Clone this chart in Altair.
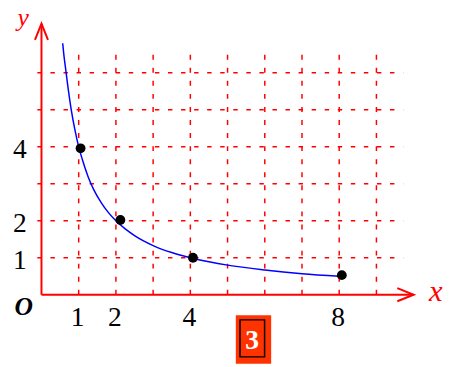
import altair as alt
import pandas as pd

# ---- data ----
grid_x = [1, 2, 3, 4, 5, 6, 7, 8, 9]
grid_y = [1, 2, 3, 4, 5, 6]
grid_x_top = 6.68      # top end of vertical grid lines
grid_y_left = -0.11    # horizontal grid lines start
grid_y_right = 9.72    # horizontal grid lines end

curve_x = [0.57, 0.6, 0.65, 0.7, 0.8, 0.9, 1.0, 1.1, 1.25, 1.4, 1.6, 1.8, 2.0,
           2.25, 2.5, 3.0, 3.5, 4.0, 4.5, 5.0, 6.0, 7.0, 8.0]
curve_y = [6.8, 6.5, 6.1, 5.7, 5.0, 4.45, 4.0, 3.65, 3.2, 2.85, 2.5, 2.22, 2.0,
           1.78, 1.6, 1.33, 1.14, 1.0, 0.89, 0.8, 0.67, 0.57, 0.5]

pts_x = [1.05, 2.12, 4.07, 8.07]
pts_y = [3.96, 2.02, 1.0, 0.53]

xtick_vals = [1, 2, 4, 8]
xtick_labels = ["1", "2", "4", "8"]
ytick_vals = [1, 2, 4]
ytick_labels = ["1", "2", "4"]

x_axis_end = 10.0
y_axis_end = 7.33

# ---- scales ----
W, H = 443, 359
xs = alt.Scale(domain=[-0.8997, 10.789], nice=False, zero=False)
ys = alt.Scale(domain=[-1.8667, 7.666], nice=False, zero=False)
SERIF = "Liberation Serif, Times New Roman, serif"
RED = "#ff0000"

vgrid_df = pd.DataFrame({"gx": grid_x, "y0": [0] * len(grid_x), "y1": [grid_x_top] * len(grid_x)})
hgrid_df = pd.DataFrame({"gy": grid_y, "x0": [grid_y_left] * len(grid_y), "x1": [grid_y_right] * len(grid_y)})
curve_df = pd.DataFrame({"x": curve_x, "y": curve_y})
pts_df = pd.DataFrame({"x": pts_x, "y": pts_y})
axes_df = pd.DataFrame({"x0": [0, 0], "y0": [0, 0], "x1": [x_axis_end, 0], "y1": [0, y_axis_end]})
arrows_df = pd.DataFrame({"x": [0, x_axis_end], "y": [y_axis_end, 0], "ang": [0, 90]})
xt_df = pd.DataFrame({"v": xtick_vals, "t": xtick_labels})
yt_df = pd.DataFrame({"v": ytick_vals, "t": ytick_labels})
one = pd.DataFrame({"k": [0]})

vgrid = alt.Chart(vgrid_df).mark_rule(color=RED, strokeWidth=1.5, strokeDash=[5, 8.3]).encode(
    x=alt.X("gx:Q", scale=xs, axis=None),
    y=alt.Y("y0:Q", scale=ys, axis=None),
    y2="y1:Q",
)
hgrid = alt.Chart(hgrid_df).mark_rule(color=RED, strokeWidth=1.5, strokeDash=[4.5, 8.8]).encode(
    y=alt.Y("gy:Q", scale=ys, axis=None),
    x=alt.X("x0:Q", scale=xs, axis=None),
    x2="x1:Q",
)
axes = alt.Chart(axes_df).mark_rule(color=RED, strokeWidth=2).encode(
    x=alt.X("x0:Q", scale=xs, axis=None),
    y=alt.Y("y0:Q", scale=ys, axis=None),
    x2="x1:Q",
    y2="y1:Q",
)
arrows = alt.Chart(arrows_df).mark_point(
    shape="M -0.4 1 L 0 0 L 0.4 1", filled=False, stroke=RED, strokeWidth=2,
    size=1102, opacity=1,
).encode(
    x=alt.X("x:Q", scale=xs, axis=None),
    y=alt.Y("y:Q", scale=ys, axis=None),
    angle=alt.Angle("ang:Q", scale=None),
)
curve = alt.Chart(curve_df).mark_line(color="#0000ff", strokeWidth=1.5, interpolate="monotone").encode(
    x=alt.X("x:Q", scale=xs, axis=None),
    y=alt.Y("y:Q", scale=ys, axis=None),
    order=alt.Order("x:Q"),
)
pts = alt.Chart(pts_df).mark_circle(size=100, color="black", opacity=1).encode(
    x=alt.X("x:Q", scale=xs, axis=None),
    y=alt.Y("y:Q", scale=ys, axis=None),
)
xt = alt.Chart(xt_df).mark_text(font=SERIF, fontSize=28, color="black", align="center",
                                baseline="alphabetic", dx=-1).encode(
    x=alt.X("v:Q", scale=xs, axis=None),
    y=alt.value(321),
    text="t:N",
)
yt = alt.Chart(yt_df).mark_text(font=SERIF, fontSize=28, color="black", align="right",
                                baseline="alphabetic", dy=11).encode(
    x=alt.value(19),
    y=alt.Y("v:Q", scale=ys, axis=None),
    text="t:N",
)
o_lbl = alt.Chart(one).mark_text(text="O", font=SERIF, fontSize=26, fontStyle="italic",
                                 fontWeight="bold", color="black", align="center",
                                 baseline="alphabetic").encode(x=alt.value(16), y=alt.value(309))
x_lbl = alt.Chart(one).mark_text(text="x", font=SERIF, fontSize=31, fontStyle="italic",
                                 color=RED, align="center", baseline="alphabetic").encode(
    x=alt.value(435.5), y=alt.value(295.5))
y_lbl = alt.Chart(one).mark_text(text="y", font=SERIF, fontSize=26, fontStyle="italic",
                                 color=RED, align="center", baseline="alphabetic").encode(
    x=alt.value(15.5), y=alt.value(15))

box = alt.Chart(one).mark_rect(color="#ff3300", opacity=1).encode(
    x=alt.value(232), x2=alt.value(268), y=alt.value(309.7), y2=alt.value(359))
inner = alt.Chart(one).mark_rect(filled=False, stroke="black", strokeWidth=1.5, opacity=1).encode(
    x=alt.value(236.3), x2=alt.value(261.3), y=alt.value(314.3), y2=alt.value(352))
three = alt.Chart(one).mark_text(text="3", font=SERIF, fontSize=28, fontWeight="bold",
                                 color="white", align="center", baseline="alphabetic").encode(
    x=alt.value(248.7), y=alt.value(343.5))

chart = alt.layer(
    vgrid, hgrid, axes, arrows, curve, pts, xt, yt, o_lbl, x_lbl, y_lbl, box, inner, three
).properties(
    width=W, height=H, autosize=alt.AutoSizeParams(type="none"), padding=0,
    background="white",
).configure_view(stroke=None)

chart.save("out.html", embed_options={"renderer": "svg", "actions": False})
